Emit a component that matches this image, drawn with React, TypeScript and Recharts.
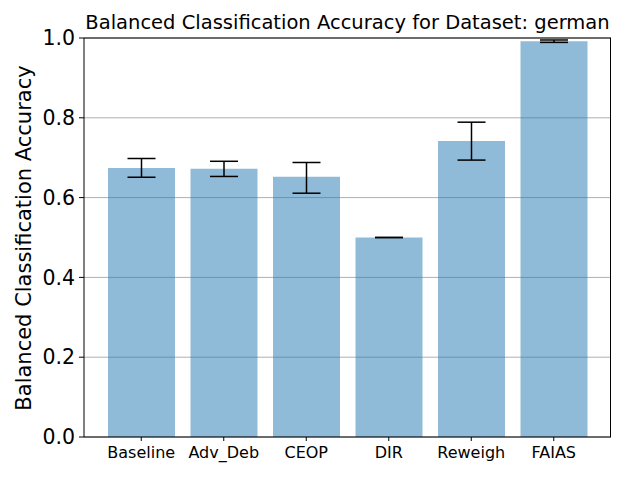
import React from 'react';
import { BarChart, Bar, XAxis, YAxis, CartesianGrid, ErrorBar, ReferenceLine } from 'recharts';

const categories = ['Baseline', 'Adv_Deb', 'CEOP', 'DIR', 'Reweigh', 'FAIAS'];
const means = [0.674, 0.672, 0.652, 0.5, 0.742, 0.992];
const lows = [0.651, 0.653, 0.611, 0.5, 0.694, 0.989];
const highs = [0.698, 0.691, 0.688, 0.5, 0.789, 0.995];
const yTicks = [0, 0.2, 0.4, 0.6, 0.8, 1.0];

const data = categories.map((name, i) => ({
  name,
  value: means[i],
  err: [means[i] - lows[i], highs[i] - means[i]],
}));

const font = '"DejaVu Sans", sans-serif';

export default function App() {
  return (
    <div style={{ position: 'absolute', left: 0, top: 0, width: 640, height: 480, background: '#fff', fontFamily: font }}>
      <div
        style={{
          position: 'absolute',
          left: 84,
          width: 527,
          top: 11,
          textAlign: 'center',
          fontSize: 19.5,
          lineHeight: '24px',
          color: '#000',
        }}
      >
        Balanced Classification Accuracy for Dataset: german
      </div>
      <div
        style={{
          position: 'absolute',
          left: 24,
          top: 238,
          transform: 'translate(-50%, -50%) rotate(-90deg)',
          whiteSpace: 'nowrap',
          fontSize: 21,
          color: '#000',
        }}
      >
        Balanced Classification Accuracy
      </div>
      <BarChart
        width={640}
        height={480}
        data={data}
        margin={{ top: 38, right: 29, bottom: 0, left: 0 }}
        barSize={67}
      >
        <CartesianGrid vertical={false} stroke="#b0b0b0" strokeWidth={1} />
        <XAxis
          dataKey="name"
          height={43}
          padding={{ left: 16, right: 16 }}
          stroke="#000"
          tickSize={4}
          tick={{ fill: '#000', fontSize: 16, fontFamily: font }}
          tickMargin={6}
          interval={0}
        />
        <YAxis
          width={84}
          domain={[0, 1]}
          ticks={yTicks}
          stroke="#000"
          tickSize={5}
          tickMargin={4}
          tickFormatter={(v: number) => v.toFixed(1)}
          tick={{ fill: '#000', fontSize: 20.5, fontFamily: font }}
        />
        <Bar dataKey="value" fill="#1f77b4" fillOpacity={0.5} isAnimationActive={false}>
          <ErrorBar dataKey="err" width={14} stroke="#000" strokeWidth={1.5} direction="y" />
        </Bar>
        <ReferenceLine y={1} stroke="#000" strokeWidth={1} />
      </BarChart>
      <div
        style={{
          position: 'absolute',
          left: 610,
          top: 38,
          width: 1,
          height: 399,
          background: '#000',
        }}
      />
    </div>
  );
}
